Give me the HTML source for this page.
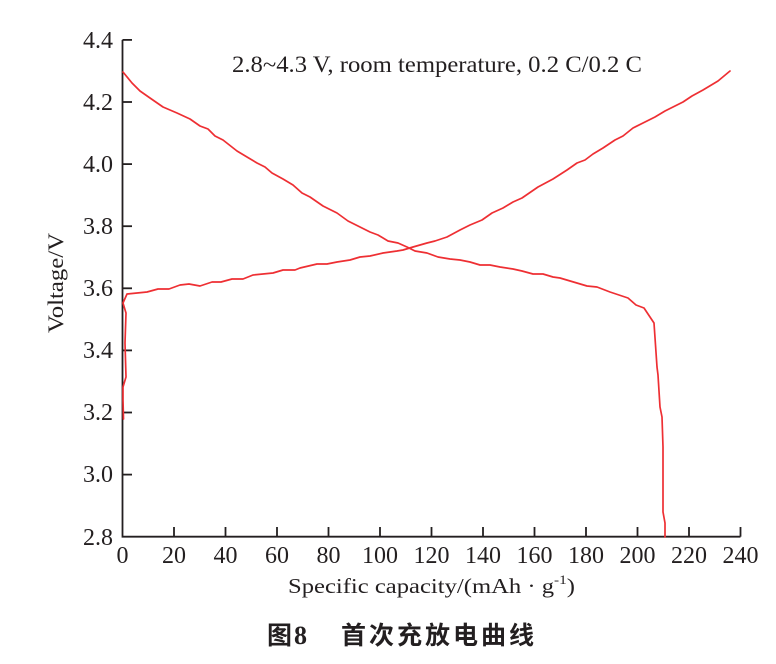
<!DOCTYPE html>
<html>
<head>
<meta charset="utf-8">
<style>
html,body{margin:0;padding:0;background:#fff;}
svg{display:block;}
text{font-family:"Liberation Serif","Noto Serif CJK SC",serif;fill:#231f20;}
</style>
</head>
<body>
<svg width="776" height="664" viewBox="0 0 776 664" xmlns="http://www.w3.org/2000/svg">
  <rect width="776" height="664" fill="#fff"/>
  <!-- axes -->
  <g stroke="#231f20" stroke-width="1.8" fill="none">
    <polyline points="122.5,39.9 122.5,536.7 740.5,536.7"/>
    <line x1="122.5" y1="39.9" x2="132" y2="39.9"/>
    <line x1="122.5" y1="102" x2="132" y2="102"/>
    <line x1="122.5" y1="164.1" x2="132" y2="164.1"/>
    <line x1="122.5" y1="226.2" x2="132" y2="226.2"/>
    <line x1="122.5" y1="288.3" x2="132" y2="288.3"/>
    <line x1="122.5" y1="350.4" x2="132" y2="350.4"/>
    <line x1="122.5" y1="412.5" x2="132" y2="412.5"/>
    <line x1="122.5" y1="474.6" x2="132" y2="474.6"/>
    <line x1="174" y1="536.7" x2="174" y2="527"/>
    <line x1="225.5" y1="536.7" x2="225.5" y2="527"/>
    <line x1="277" y1="536.7" x2="277" y2="527"/>
    <line x1="328.5" y1="536.7" x2="328.5" y2="527"/>
    <line x1="380" y1="536.7" x2="380" y2="527"/>
    <line x1="431.5" y1="536.7" x2="431.5" y2="527"/>
    <line x1="483" y1="536.7" x2="483" y2="527"/>
    <line x1="534.5" y1="536.7" x2="534.5" y2="527"/>
    <line x1="586" y1="536.7" x2="586" y2="527"/>
    <line x1="637.5" y1="536.7" x2="637.5" y2="527"/>
    <line x1="689" y1="536.7" x2="689" y2="527"/>
    <line x1="740.5" y1="536.7" x2="740.5" y2="527"/>
  </g>
  <!-- y tick labels -->
  <g font-size="24" text-anchor="end">
    <text x="113" y="48">4.4</text>
    <text x="113" y="110">4.2</text>
    <text x="113" y="172">4.0</text>
    <text x="113" y="234">3.8</text>
    <text x="113" y="296">3.6</text>
    <text x="113" y="358">3.4</text>
    <text x="113" y="420">3.2</text>
    <text x="113" y="482">3.0</text>
    <text x="113" y="545">2.8</text>
  </g>
  <!-- x tick labels -->
  <g font-size="24" text-anchor="middle">
    <text x="122.5" y="563">0</text>
    <text x="174" y="563">20</text>
    <text x="225.5" y="563">40</text>
    <text x="277" y="563">60</text>
    <text x="328.5" y="563">80</text>
    <text x="380" y="563">100</text>
    <text x="431.5" y="563">120</text>
    <text x="483" y="563">140</text>
    <text x="534.5" y="563">160</text>
    <text x="586" y="563">180</text>
    <text x="637.5" y="563">200</text>
    <text x="689" y="563">220</text>
    <text x="740.5" y="563">240</text>
  </g>
  <!-- annotation -->
  <text x="232" y="72" font-size="23" textLength="410" lengthAdjust="spacingAndGlyphs">2.8~4.3 V, room temperature, 0.2 C/0.2 C</text>
  <!-- axis titles -->
  <text transform="translate(63,283) rotate(-90)" font-size="22" text-anchor="middle" textLength="100" lengthAdjust="spacingAndGlyphs">Voltage/V</text>
  <text x="288" y="593" font-size="21" textLength="287" lengthAdjust="spacingAndGlyphs">Specific capacity/(mAh · g<tspan font-size="13" dy="-9">-1</tspan><tspan dy="9">)</tspan></text>
  <!-- caption -->
  <text x="267" y="644" font-size="25" font-weight="bold" style="font-family:'Noto Sans CJK SC',sans-serif;">图</text>
  <text x="294" y="644" font-size="26" font-weight="bold">8</text>
  <text x="341" y="644" font-size="25" font-weight="bold" letter-spacing="3" style="font-family:'Noto Sans CJK SC',sans-serif;">首次充放电曲线</text>
  <!-- curves -->
  <g fill="none" stroke="#ee2f33" stroke-width="1.7" stroke-linejoin="round" stroke-linecap="round">
    <polyline points="123.5,419 123,400 123,387 126,377 125,343 126,313 123,303 127,294 147,292 158,289 169,289 180,285 189,284 200,286 212,282 221,282 232,279 243,279 253,275 273,273 283,270 295,270 300,268 317,264 327,264 337,262 350,260 360,257 370,256 383,253 397,251 403,250 413,247 427,243 435,241 447,237 460,230 470,225 482,220 492,213 503,208 513,202 522,198 538,187 553,179 567,170 577,163 585,160 593,154 603,148 615,140 623,136 633,128 643,123 655,117 665,111 683,102 692,96 703,90 718,81 730,71"/>
    <polyline points="123,72 132,83 140,91 150,98 163,107 177,113 190,119 200,126 208,129 215,136 223,140 237,151 247,157 257,163 265,167 272,173 283,179 293,185 302,193 310,197 323,206 337,213 348,221 370,232 378,235 388,241 398,243 407,247 415,251 427,253 438,257 450,259 460,260 470,262 480,265 490,265 500,267 513,269 522,271 533,274 543,274 553,277 560,278 587,286 597,287 610,292 628,298 636,305 644,308 654,323 657,367 658,375 660,407 662,417 663,447 663,512 665,523 665,537"/>
  </g>
</svg>
</body>
</html>
